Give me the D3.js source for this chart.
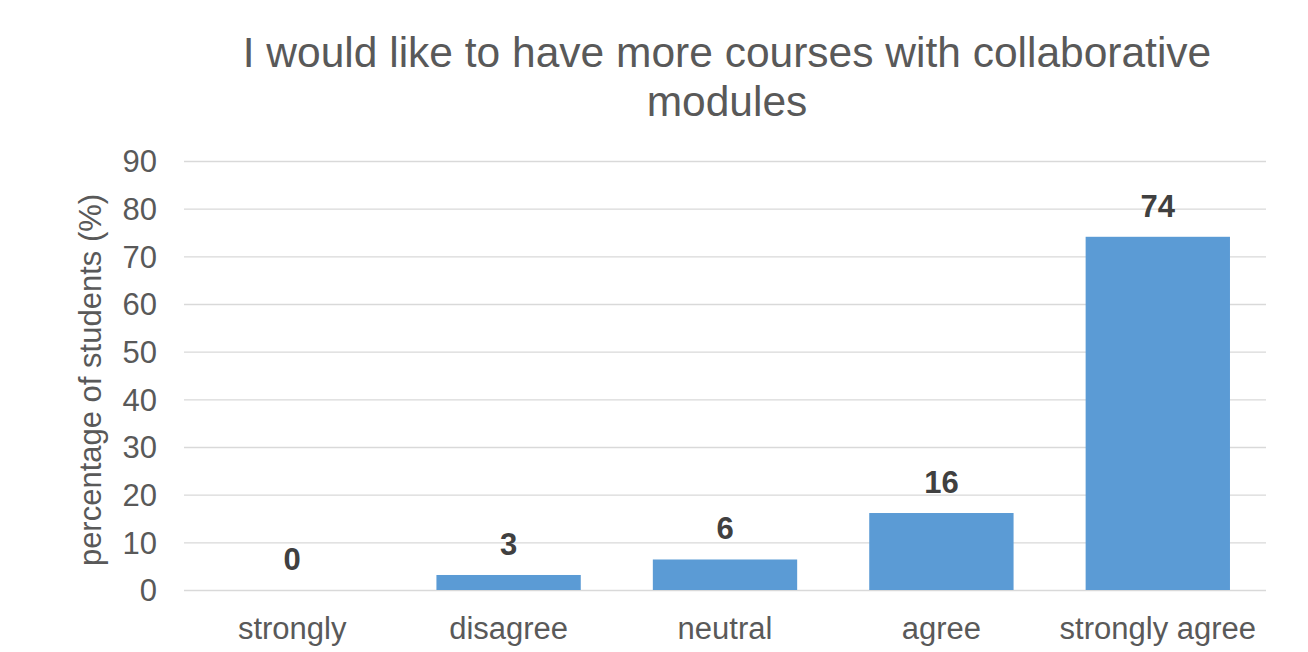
<!DOCTYPE html>
<html>
<head>
<meta charset="utf-8">
<script src="https://cdn.jsdelivr.net/npm/d3@7"></script>
<style>
  html, body { margin: 0; padding: 0; background: #fff; }
  svg { display: block; }
  text { font-family: "Liberation Sans", Arial, sans-serif; }
</style>
</head>
<body>
<svg id="chart" width="1308" height="652"></svg>
<script>
const categories = ["strongly", "disagree", "neutral", "agree", "strongly agree"];
const values = [0, 3.15, 6.4, 16.15, 74.1];
const labels = ["0", "3", "6", "16", "74"];
const yTicks = [0, 10, 20, 30, 40, 50, 60, 70, 80, 90];
const titleLines = ["I would like to have more courses with collaborative", "modules"];
const yAxisTitle = "percentage of students (%)";

const svg = d3.select("#chart");
const margin = { left: 184, right: 1308 - 1266, top: 161, bottom: 652 - 590 };
const width = 1308 - margin.left - margin.right;
const height = 652 - margin.top - margin.bottom;
const fs = 31;

const x = d3.scaleBand().domain(categories).range([margin.left, margin.left + width]).paddingInner(0.333).paddingOuter(0.1665);
const y = d3.scaleLinear().domain([0, 90]).range([margin.top + height, margin.top]);

// gridlines
svg.append("g")
  .selectAll("line")
  .data(yTicks)
  .join("line")
  .attr("x1", margin.left)
  .attr("x2", margin.left + width)
  .attr("y1", d => y(d) + 0.5)
  .attr("y2", d => y(d) + 0.5)
  .attr("stroke", "#d9d9d9")
  .attr("stroke-width", 1.3);

// y axis
const yAxis = svg.append("g")
  .attr("transform", `translate(${margin.left},0)`)
  .call(d3.axisLeft(y).tickValues(yTicks).tickSize(0).tickPadding(27));
yAxis.select(".domain").remove();
yAxis.selectAll("text")
  .attr("fill", "#595959")
  .style("font-size", fs + "px")
  .attr("dy", "0.35em");

// x axis
const xAxis = svg.append("g")
  .attr("transform", `translate(0,${margin.top + height})`)
  .call(d3.axisBottom(x).tickSize(0).tickPadding(27));
xAxis.select(".domain").remove();
xAxis.selectAll("text")
  .attr("fill", "#595959")
  .style("font-size", fs + "px")
  .attr("dy", "0.71em");

// bars
svg.append("g")
  .selectAll("rect")
  .data(values)
  .join("rect")
  .attr("x", (d, i) => x(categories[i]))
  .attr("width", x.bandwidth())
  .attr("y", d => y(d))
  .attr("height", d => y(0) - y(d))
  .attr("fill", "#5b9bd5");

// data labels
svg.append("g")
  .selectAll("text")
  .data(values)
  .join("text")
  .attr("x", (d, i) => x(categories[i]) + x.bandwidth() / 2)
  .attr("y", d => y(d) - 20)
  .attr("text-anchor", "middle")
  .attr("fill", "#404040")
  .style("font-size", fs + "px")
  .style("font-weight", "bold")
  .text((d, i) => labels[i]);

// y axis title
svg.append("text")
  .attr("transform", `translate(101,380) rotate(-90)`)
  .attr("text-anchor", "middle")
  .attr("fill", "#595959")
  .style("font-size", fs + "px")
  .text(yAxisTitle);

// title
svg.append("g")
  .selectAll("text")
  .data(titleLines)
  .join("text")
  .attr("x", 727)
  .attr("y", (d, i) => 67 + i * 49)
  .attr("text-anchor", "middle")
  .attr("fill", "#595959")
  .style("font-size", "42.5px")
  .text(d => d);
</script>
</body>
</html>
